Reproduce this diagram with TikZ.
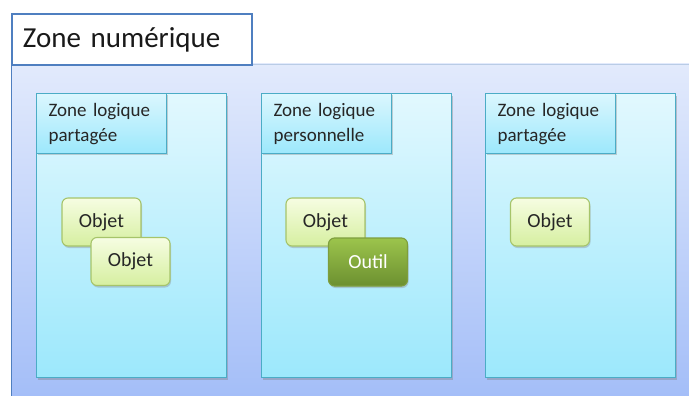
\documentclass[tikz,border=0pt]{standalone}
\usepackage{fontspec}
\setmainfont{Carlito}
\usepackage{xcolor}
\usetikzlibrary{positioning,shadows}

\definecolor{zoneTop}{HTML}{E2EAFC}
\definecolor{zoneBot}{HTML}{A4BEF8}
\definecolor{zoneLine}{HTML}{4F7FC0}
\definecolor{colTop}{HTML}{E2F8FE}
\definecolor{colBot}{HTML}{9CE8FC}
\definecolor{colLine}{HTML}{4BACC6}
\definecolor{objTop}{HTML}{F6FDE2}
\definecolor{objBot}{HTML}{D6EFA0}
\definecolor{objLine}{HTML}{A6C46A}
\definecolor{toolTop}{HTML}{9CC44C}
\definecolor{toolBot}{HTML}{6C9030}
\definecolor{toolLine}{HTML}{7E9E3E}

\tikzset{
  zonelabel/.style={draw=zoneLine, line width=1.8pt, fill=white, anchor=north west,
    minimum width=240pt, minimum height=51pt, inner sep=0pt, inner xsep=11pt,
    text width=218pt, align=left, font=\fontsize{29}{32}\selectfont, text=black!90},
  logiczone/.style={draw=colLine, line width=1.2pt, top color=colTop, bottom color=colBot,
    anchor=north west, minimum width=190pt, minimum height=284pt, inner sep=0pt,
    drop shadow={shadow xshift=1pt, shadow yshift=-2pt, opacity=0.4}},
  zonehead/.style={draw=colLine, line width=1.2pt, top color=colTop!90!colBot, bottom color=colBot,
    anchor=north west, minimum width=130pt, minimum height=60pt, inner sep=0pt,
    text width=106pt, align=left, font=\fontsize{19}{25}\selectfont, text=black!85,
    drop shadow={shadow xshift=1pt, shadow yshift=-1.5pt, opacity=0.35}},
  objbox/.style={draw=objLine, line width=1.1pt, rounded corners=6pt,
    top color=objTop, bottom color=objBot, minimum width=79pt, minimum height=48pt,
    inner sep=0pt, font=\fontsize{20}{22}\selectfont, text=black!85,
    drop shadow={shadow xshift=1pt, shadow yshift=-2pt, opacity=0.35}},
  toolbox/.style={objbox, draw=toolLine, top color=toolTop, bottom color=toolBot, text=white}
}

\begin{document}
\begin{tikzpicture}[x=1pt, y=-1pt]
    \useasboundingbox (0,0) rectangle (689,396);
    \fill[white] (0,0) rectangle (689,396);

    % numeric zone
    \shade[top color=zoneTop, bottom color=zoneBot] (11,64) rectangle (689,396);
    \draw[zoneLine!40, line width=0.8pt] (11,64) -- (689,64);
    \draw[zoneLine, line width=1.4pt] (11.5,64) -- (11.5,396);
    \node[zonelabel] (zn) at (11,13) {Zone numérique};

    % logical zones
    \node[logiczone] (z1) at (36,93) {};
    \node[logiczone] (z2) at (261,93) {};
    \node[logiczone] (z3) at (485,93) {};

    \node[zonehead] (h1) at (z1.north west) {Zone logique\\partagée};
    \node[zonehead] (h2) at (z2.north west) {Zone logique\\personnelle};
    \node[zonehead] (h3) at (z3.north west) {Zone logique\\partagée};

    % objects and tool
    \node[objbox] (o1) at (101.5,222) {Objet};
    \node[objbox] (o2) at (130.5,261.5) {Objet};
    \node[objbox] (o3) at (325.5,222) {Objet};
    \node[toolbox] (t1) at (368,262) {Outil};
    \node[objbox] (o4) at (550,222) {Objet};
\end{tikzpicture}
\end{document}
